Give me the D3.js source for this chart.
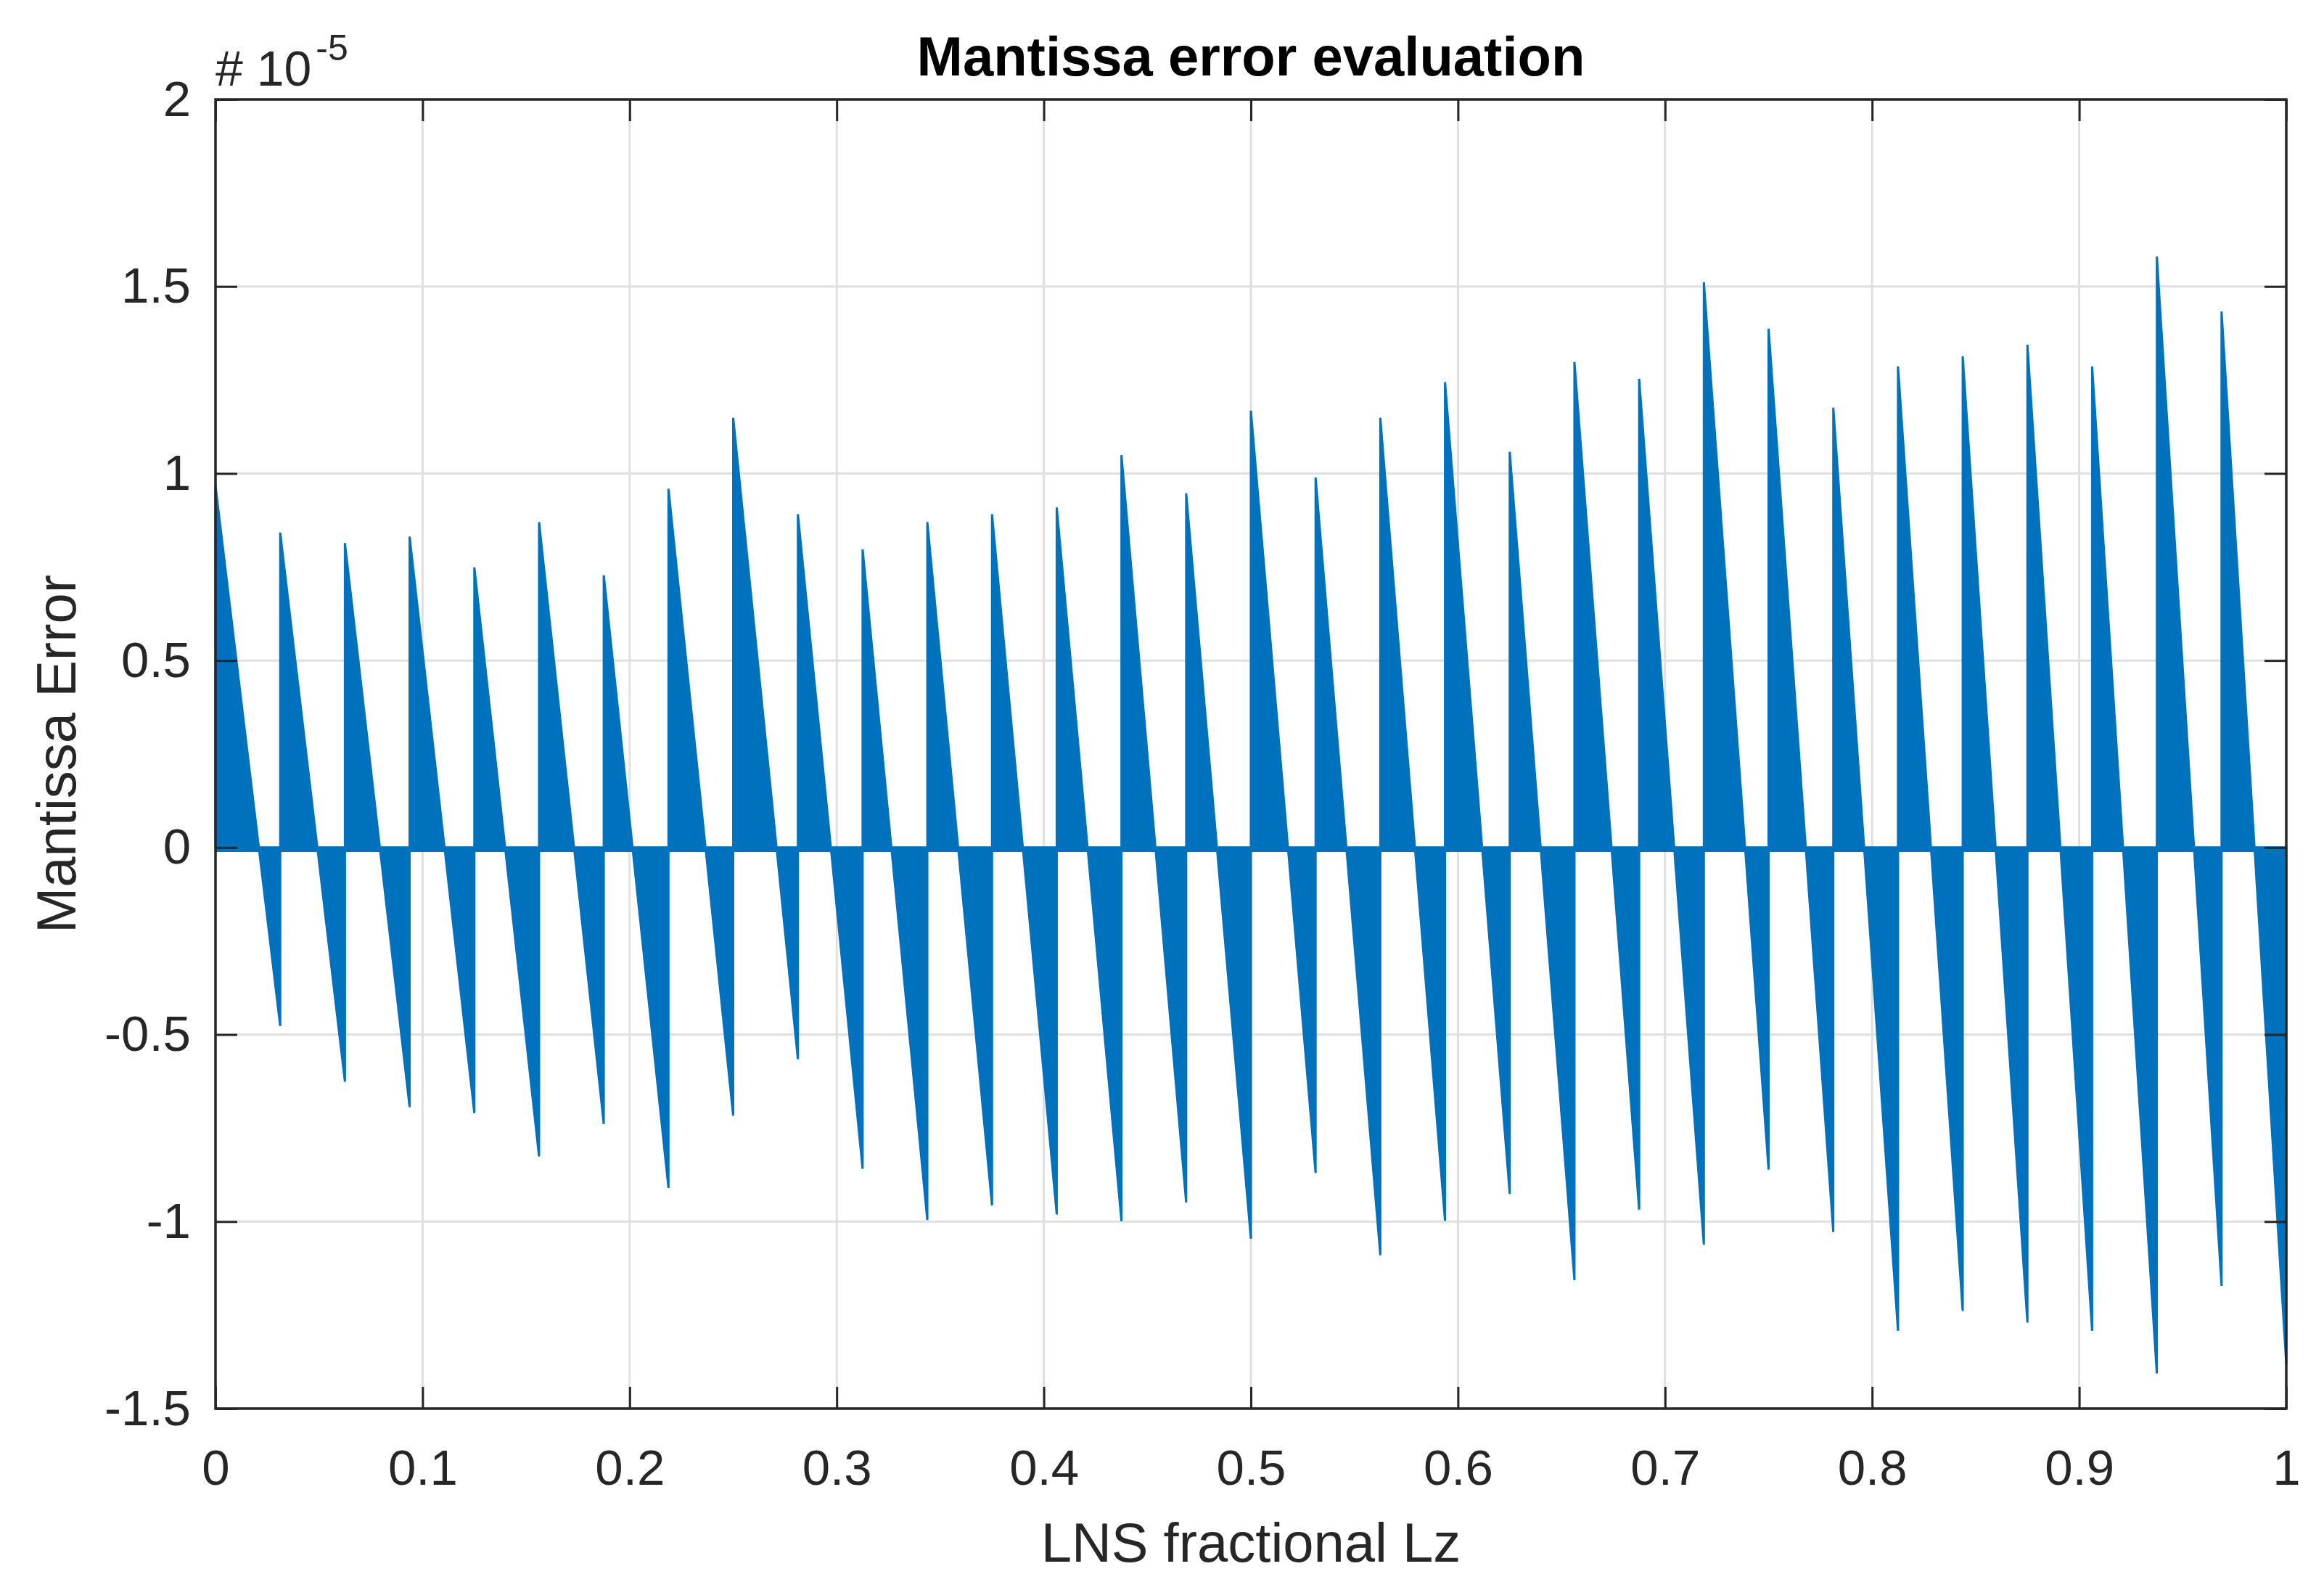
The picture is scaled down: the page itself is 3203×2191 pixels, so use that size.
<!DOCTYPE html>
<html>
<head>
<meta charset="utf-8">
<script src="https://cdn.jsdelivr.net/npm/d3@7"></script>
<style>
  html, body { margin: 0; padding: 0; background: #ffffff; }
  svg { display: block; }
  text { font-family: "Liberation Sans", Arial, Helvetica, sans-serif; }
</style>
</head>
<body>
<svg id="chart" width="3203" height="2191"></svg>
<script>
// ---------------- data ----------------
const titleText = "Mantissa error evaluation";
const xLabelText = "LNS fractional Lz";
const yLabelText = "Mantissa Error";
const exponentBase = "# 10";
const exponentPower = "-5";

// segment boundaries along LNS fractional Lz (32 segments)
const segmentBounds = [0, 0.03125, 0.0625, 0.09375, 0.125, 0.15625, 0.1875, 0.21875,
  0.25, 0.28125, 0.3125, 0.34375, 0.375, 0.40625, 0.4375, 0.46875,
  0.5, 0.53125, 0.5625, 0.59375, 0.625, 0.65625, 0.6875, 0.71875,
  0.75, 0.78125, 0.8125, 0.84375, 0.875, 0.90625, 0.9375, 0.96875, 1];

// envelope maximum at start of each segment (x1e-5)
const peakValues = [0.967, 0.842, 0.814, 0.831, 0.749, 0.870, 0.728, 0.959,
  1.149, 0.891, 0.797, 0.870, 0.891, 0.909, 1.049, 0.947,
  1.168, 0.989, 1.149, 1.244, 1.058, 1.298, 1.253, 1.511,
  1.387, 1.176, 1.286, 1.313, 1.344, 1.286, 1.580, 1.433];

// envelope minimum at end of each segment (x1e-5)
const troughValues = [-0.477, -0.626, -0.694, -0.710, -0.826, -0.739, -0.910, -0.717,
  -0.566, -0.859, -0.996, -0.957, -0.981, -0.999, -0.949, -1.046,
  -0.870, -1.090, -0.998, -0.926, -1.157, -0.968, -1.062, -0.861,
  -1.028, -1.292, -1.239, -1.270, -1.292, -1.406, -1.172, -1.381];

// thin noise band hugging zero
const zeroBand = [0, -0.012];

const xTicks = [0, 0.1, 0.2, 0.3, 0.4, 0.5, 0.6, 0.7, 0.8, 0.9, 1];
const xTickLabels = ["0", "0.1", "0.2", "0.3", "0.4", "0.5", "0.6", "0.7", "0.8", "0.9", "1"];
const yTicks = [-1.5, -1, -0.5, 0, 0.5, 1, 1.5, 2];
const yTickLabels = ["-1.5", "-1", "-0.5", "0", "0.5", "1", "1.5", "2"];

// ---------------- layout ----------------
const plotLeft = 297, plotRight = 3151, plotTop = 137, plotBottom = 1941;
const axisColor = "#262626";
const gridColor = "#e0e0e0";
const lineColor = "#0072BD";

const svg = d3.select("#chart");
const x = d3.scaleLinear().domain([0, 1]).range([plotLeft, plotRight]);
const y = d3.scaleLinear().domain([-1.5, 2]).range([plotBottom, plotTop]);

// grid
const grid = svg.append("g");
grid.selectAll("line.gx").data(xTicks).join("line")
  .attr("class", "gx")
  .attr("x1", d => x(d)).attr("x2", d => x(d))
  .attr("y1", plotTop).attr("y2", plotBottom)
  .attr("stroke", gridColor).attr("stroke-width", 3);
grid.selectAll("line.gy").data(yTicks).join("line")
  .attr("class", "gy")
  .attr("x1", plotLeft).attr("x2", plotRight)
  .attr("y1", d => y(d)).attr("y2", d => y(d))
  .attr("stroke", gridColor).attr("stroke-width", 3);

// data
const segments = peakValues.map((p, i) => [
  { x: segmentBounds[i], v: p },
  { x: segmentBounds[i + 1], v: troughValues[i] }
]);
const area = d3.area()
  .x(d => x(d.x))
  .y0(y(0))
  .y1(d => y(d.v));
const plot = svg.append("g");
plot.append("rect")
  .attr("x", x(0)).attr("width", x(1) - x(0))
  .attr("y", y(zeroBand[0])).attr("height", y(zeroBand[1]) - y(zeroBand[0]))
  .attr("fill", lineColor);
plot.selectAll("path.seg").data(segments).join("path")
  .attr("class", "seg")
  .attr("d", area)
  .attr("fill", lineColor)
  .attr("stroke", lineColor)
  .attr("stroke-width", 3)
  .attr("stroke-linejoin", "miter");

// axes
const tickLen = 30;
const fontTick = 69;
const xAxisBottom = d3.axisBottom(x).tickValues(xTicks)
  .tickFormat((d, i) => xTickLabels[i]).tickSizeInner(-tickLen).tickSizeOuter(0).tickPadding(56);
const xAxisTop = d3.axisTop(x).tickValues(xTicks).tickFormat("").tickSizeInner(-tickLen).tickSizeOuter(0);
const yAxisLeft = d3.axisLeft(y).tickValues(yTicks)
  .tickFormat((d, i) => yTickLabels[i]).tickSizeInner(-tickLen).tickSizeOuter(0).tickPadding(34);
const yAxisRight = d3.axisRight(y).tickValues(yTicks).tickFormat("").tickSizeInner(-tickLen).tickSizeOuter(0);

function styleAxis(g) {
  g.select(".domain").remove();
  g.selectAll(".tick line").attr("stroke", axisColor).attr("stroke-width", 3);
  g.selectAll(".tick text").attr("fill", axisColor)
    .style("font-size", fontTick + "px")
    .style("font-family", "'Liberation Sans', Arial, sans-serif");
}
svg.append("g").attr("transform", `translate(0,${plotBottom})`).call(xAxisBottom).call(styleAxis);
svg.append("g").attr("transform", `translate(0,${plotTop})`).call(xAxisTop).call(styleAxis);
svg.append("g").attr("transform", `translate(${plotLeft},0)`).call(yAxisLeft).call(styleAxis);
svg.append("g").attr("transform", `translate(${plotRight},0)`).call(yAxisRight).call(styleAxis);

// box
svg.append("rect")
  .attr("x", plotLeft).attr("y", plotTop)
  .attr("width", plotRight - plotLeft).attr("height", plotBottom - plotTop)
  .attr("fill", "none").attr("stroke", axisColor).attr("stroke-width", 3.5);

// exponent label
const expo = svg.append("text")
  .attr("x", plotLeft).attr("y", 118)
  .attr("fill", axisColor)
  .style("font-size", "68px");
expo.append("tspan").text(exponentBase);
expo.append("tspan").attr("dx", 6).attr("dy", -35).style("font-size", "50px").text(exponentPower);

// title
svg.append("text")
  .attr("x", (plotLeft + plotRight) / 2).attr("y", 104)
  .attr("text-anchor", "middle")
  .attr("fill", "#000")
  .style("font-size", "76px").style("font-weight", "bold")
  .text(titleText);

// x label
svg.append("text")
  .attr("x", (plotLeft + plotRight) / 2).attr("y", 2152)
  .attr("text-anchor", "middle")
  .attr("fill", axisColor)
  .style("font-size", "76px")
  .text(xLabelText);

// y label
svg.append("text")
  .attr("transform", `translate(104,${(plotTop + plotBottom) / 2}) rotate(-90)`)
  .attr("text-anchor", "middle")
  .attr("fill", axisColor)
  .style("font-size", "76px")
  .text(yLabelText);
</script>
</body>
</html>
